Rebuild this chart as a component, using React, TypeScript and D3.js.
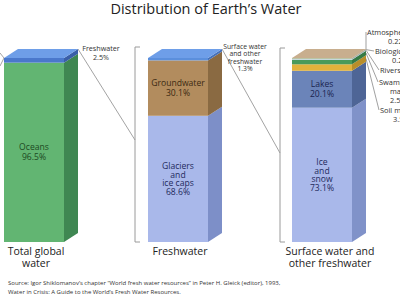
import React, { useEffect } from 'react';
import * as d3 from 'd3';

// categories (bars, left to right)
const categories = ['Total global water', 'Freshwater', 'Surface water and other freshwater'];
const categoryLines = [['Total global', 'water'], ['Freshwater'], ['Surface water and', 'other freshwater']];

// segments of each bar, bottom to top (percent)
const globalValues = [96.5, 2.5];
const freshValues = [68.6, 30.1, 1.3];
const surfaceValues = [73.1, 20.1, 3.52, 2.53, 0.46, 0.22, 0.22];

// inside labels (shown on bigger segments)
const globalInner = [['Oceans', '96.5%'], null];
const freshInner = [['Glaciers', 'and', 'ice caps', '68.6%'], ['Groundwater', '30.1%'], null];
const surfaceInner = [['Ice', 'and', 'snow', '73.1%'], ['Lakes', '20.1%'], null, null, null, null, null];

// outside labels for the small segments of the last bar
const smallLabels = [
  { idx: 6, lines: ['Atmosphere', '0.22%'] },
  { idx: 5, lines: ['Biological', '0.22%'] },
  { idx: 4, lines: ['Rivers 0.46%'] },
  { idx: 3, lines: ['Swamps,', 'marshes', '2.53%'] },
  { idx: 2, lines: ['Soil moisture', '3.52%'] },
];

// [front, side, top, text]
const globalColors = [['#62b572', '#3f8752', '#62b572', '#1d4a22'], ['#4a78cc', '#3a5fa8', '#6e9ee8', '#222']];
const freshColors = [
  ['#a9b8ea', '#7d8fc8', '#a9b8ea', '#1f2a5c'],
  ['#b28c5e', '#8a6a42', '#b28c5e', '#3b2a12'],
  ['#5b8fdc', '#4570b8', '#6e9ee8', '#222'],
];
const surfaceColors = [
  ['#a9b8ea', '#8092c9', '#a9b8ea', '#1f2a5c'],
  ['#6b84b9', '#4e6596', '#6b84b9', '#1a2550'],
  ['#e2b23c', '#b88e2a', '#e2b23c', '#222'],
  ['#4a9a5a', '#357a44', '#4a9a5a', '#222'],
  ['#c9d6e8', '#a8b6c8', '#c9d6e8', '#222'],
  ['#4f9e4a', '#3a7d36', '#4f9e4a', '#222'],
  ['#c8ae8e', '#a58a6a', '#c8ae8e', '#222'],
];

const W = 400, H = 300;
const barW = 60, dx = 14, dy = 9;
const yBottom = 242, yTop = 58;
const font = "'Open Sans', sans-serif";

function Bar({ cx, values, colors, inner }) {
  const total = d3.sum(values);
  const y = d3.scaleLinear().domain([0, total]).range([yBottom, yTop]);
  const x0 = cx - barW / 2, x1 = cx + barW / 2;
  const cum = d3.cumsum(values);
  const segs = values.map((v, i) => ({ lo: cum[i] - v, hi: cum[i], i }));
  const top = segs[segs.length - 1];
  return (
    <g>
      {segs.map((s) => {
        const ya = y(s.lo), yb = y(s.hi);
        return (
          <g key={s.i}>
            <rect x={x0} y={yb} width={barW} height={ya - yb} fill={colors[s.i][0]} />
            <path d={`M${x1},${ya}L${x1 + dx},${ya - dy}L${x1 + dx},${yb - dy}L${x1},${yb}Z`} fill={colors[s.i][1]} />
          </g>
        );
      })}
      <path
        d={`M${x0},${y(top.hi)}L${x0 + dx},${y(top.hi) - dy}L${x1 + dx},${y(top.hi) - dy}L${x1},${y(top.hi)}Z`}
        fill={colors[top.i][2]}
      />
      {segs.map((s) => {
        const lines = inner[s.i];
        if (!lines) return null;
        const mid = (y(s.lo) + y(s.hi)) / 2;
        const lh = lines.length > 2 ? 8.6 : 9.8;
        const start = mid - ((lines.length - 1) * lh) / 2;
        return (
          <text key={'t' + s.i} x={cx} textAnchor="middle" fontSize={8.6} fill={colors[s.i][3]}
            fontFamily={font}>
            {lines.map((l, k) => (
              <tspan key={k} x={cx} y={start + k * lh + 3}>{l}</tspan>
            ))}
          </text>
        );
      })}
    </g>
  );
}

function Bracket({ x, y0, y1 }) {
  return (
    <path d={`M${x + 5},${y0}H${x}V${y1}H${x + 5}`} fill="none" stroke="#9a9a9a" strokeWidth={1} />
  );
}

export default function App() {
  useEffect(() => {
    document.body.style.margin = '0';
  }, []);

  const xc = d3.scalePoint().domain(categories).range([34, 322]);
  const c0 = xc(categories[0]), c1 = xc(categories[1]), c2 = xc(categories[2]);
  const backTop = yTop - dy;
  const br1 = c1 - barW / 2 - 13, br2 = c2 - barW / 2 - 12;

  const ys = d3.scaleLinear().domain([0, d3.sum(surfaceValues)]).range([yBottom, yTop]);
  const cumS = d3.cumsum(surfaceValues);
  const labelY = [35, 54, 73, 85, 113];
  const labelX = [367, 375, 380, 379, 380];
  const subX = [388, 392, 392, 390, 393];

  return (
    <svg width={W} height={H} style={{ display: 'block', background: '#fff' }}>
      <text x={206} y={14} textAnchor="middle" fontSize={14.5} fill="#222" fontFamily={font}>
        Distribution of Earth’s Water
      </text>

      {/* connectors */}
      <line x1={c0 + barW / 2 + dx} y1={backTop} x2={br1} y2={140} stroke="#8c8c8c" strokeWidth={0.8} />
      <line x1={c1 + barW / 2 + dx} y1={backTop} x2={br2} y2={153} stroke="#8c8c8c" strokeWidth={0.8} />
      <path d={`M0,53L${c0 - barW / 2},${yTop}L0,66`} fill="none" stroke="#8c8c8c" strokeWidth={0.8} />

      <Bracket x={br1} y0={backTop - 2} y1={yBottom} />
      <Bracket x={br2} y0={backTop - 1} y1={yBottom} />

      <Bar cx={c0} values={globalValues} colors={globalColors} inner={globalInner} />
      <Bar cx={c1} values={freshValues} colors={freshColors} inner={freshInner} />
      <Bar cx={c2} values={surfaceValues} colors={surfaceColors} inner={surfaceInner} />

      <text x={101} textAnchor="middle" fontSize={7.2} fill="#333" fontFamily={font}>
        <tspan x={101} y={51}>Freshwater</tspan>
        <tspan x={101} y={60}>2.5%</tspan>
      </text>
      <text x={245} textAnchor="middle" fontSize={6.8} fill="#333" fontFamily={font}>
        {['Surface water', 'and other', 'freshwater', '1.3%'].map((l, k) => (
          <tspan key={k} x={245} y={49 + k * 7.4}>{l}</tspan>
        ))}
      </text>

      {smallLabels.map((s, k) => {
        const v = surfaceValues[s.idx];
        const mid = (ys(cumS[s.idx] - v) + ys(cumS[s.idx])) / 2;
        const sx = c2 + barW / 2 + dx;
        const sy = mid - dy;
        return (
          <g key={s.idx}>
            <line x1={sx} y1={sy} x2={labelX[k] - 1} y2={labelY[k] - 3} stroke="#777" strokeWidth={0.7} />
            <text textAnchor="start" fontSize={7.4} fill="#333" fontFamily={font}>
              {s.lines.map((l, j) => (
                <tspan key={j} x={j > 0 ? subX[k] : labelX[k]} y={labelY[k] + j * 9}>{l}</tspan>
              ))}
            </text>
          </g>
        );
      })}

      {categories.map((c, i) => (
        <text key={c} textAnchor="middle" fontSize={10.5} fill="#222" fontFamily={font}>
          {categoryLines[i].map((l, k) => (
            <tspan key={k} x={xc(c)! + (i === 2 ? 8 : 2)} y={255 + k * 11.5}>{l}</tspan>
          ))}
        </text>
      ))}

      <text fontSize={6} fill="#333" fontFamily={font}>
        <tspan x={8} y={285}>Source: Igor Shiklomanov’s chapter “World fresh water resources” in Peter H. Gleick (editor), 1993,</tspan>
        <tspan x={8} y={294}>Water in Crisis: A Guide to the World’s Fresh Water Resources.</tspan>
      </text>
    </svg>
  );
}
